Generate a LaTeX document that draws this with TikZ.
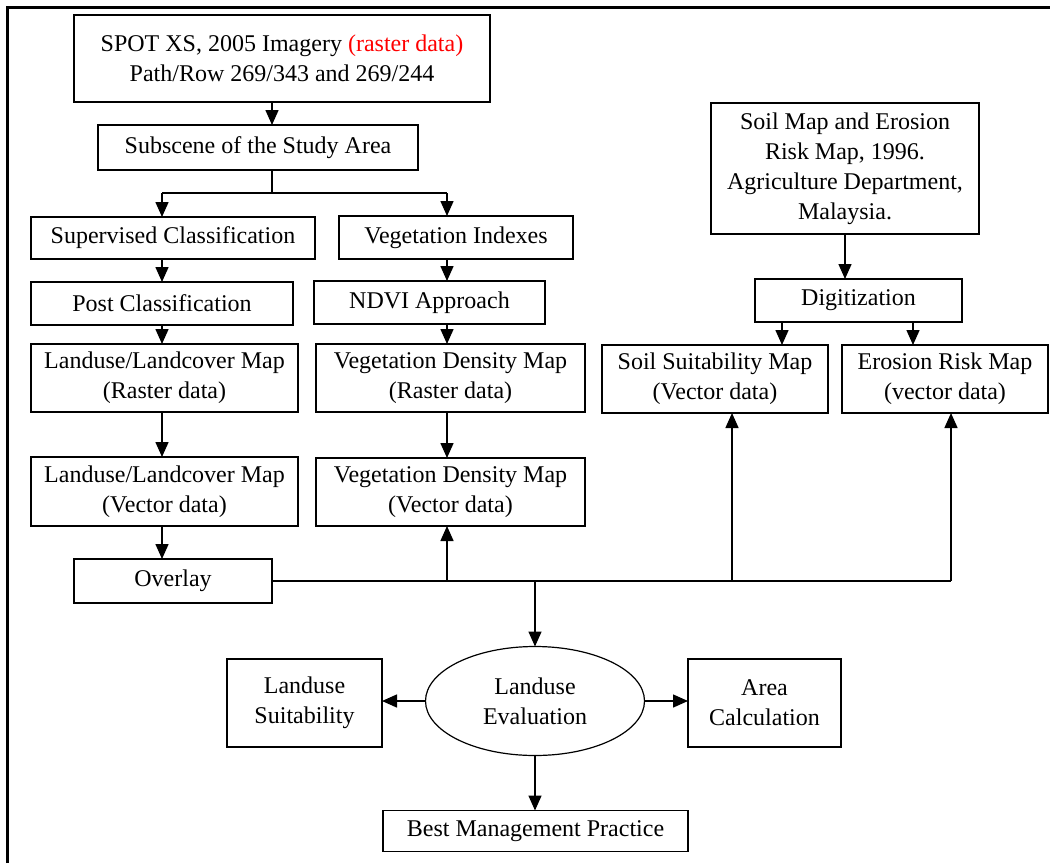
\documentclass[tikz,border=0pt]{standalone}
\usepackage{fontspec}
\setmainfont{Liberation Serif}
\usetikzlibrary{arrows.meta,shapes.geometric}
\newcommand{\boxline}{0.75pt}
\newcommand{\frameline}{1.5pt}
\newcommand{\splity}{193}
\newcommand{\colAx}{162}
\newcommand{\colBx}{447}
\newcommand{\trunkx}{272}

\begin{document}
\begin{tikzpicture}[x=0.5pt,y=-0.5pt]
\tikzstyle{box}=[draw,line width=\boxline,align=center,inner sep=0pt,outer sep=0pt,font=\fontsize{12}{15}\selectfont]
\tikzstyle{arr}=[line width=\boxline,-{Triangle[length=7.5pt,width=6.5pt]}]
\tikzstyle{plain}=[line width=\boxline]

\useasboundingbox (0,0) rectangle (1050,863);

%% frame
\draw[line width=\frameline] (7,863) -- (7,7) -- (1050,7);

%% columns for the connectors
\coordinate (colA) at (\colAx,0);
\coordinate (colB) at (\colBx,0);
\coordinate (colS) at (732,0);
\coordinate (colE) at (951,0);
\coordinate (colM) at (535,0);
\coordinate (colDL) at (782,0);
\coordinate (colDR) at (913,0);
\coordinate (split) at (\trunkx,\splity);
\coordinate (splitL) at (\colAx,\splity);
\coordinate (splitR) at (\colBx,\splity);

%% image branch
\node (spot) [box,minimum width=208pt,minimum height=43.5pt] at (282,58.5) {SPOT XS, 2005 Imagery \textcolor{red}{(raster data)}\\Path/Row 269/343 and 269/244};
\node (sub) [box,minimum width=160pt,minimum height=22.5pt] at (258,147.5) {Subscene of the Study Area};
\node (sup) [box,minimum width=142pt,minimum height=21pt] at (173,238) {Supervised Classification};
\node (vegi) [box,minimum width=117pt,minimum height=21.5pt] at (456,237.5) {Vegetation Indexes};
\node (post) [box,minimum width=131pt,minimum height=21.5pt] at (162,303.5) {Post Classification};
\node (ndvi) [box,minimum width=115.5pt,minimum height=21.5pt] at (429.5,302.5) {NDVI Approach};
\node (lucr) [box,minimum width=133.5pt,minimum height=34pt] at (164.5,378) {Landuse/Landcover Map\\(Raster data)};
\node (vdr) [box,minimum width=134.5pt,minimum height=34pt] at (450.5,378) {Vegetation Density Map\\(Raster data)};
\node (lucv) [box,minimum width=133.5pt,minimum height=34.5pt] at (164.5,491.5) {Landuse/Landcover Map\\(Vector data)};
\node (vdv) [box,minimum width=134.5pt,minimum height=34pt] at (450.5,492) {Vegetation Density Map\\(Vector data)};
\node (overlay) [box,minimum width=99pt,minimum height=22pt] at (173,581) {Overlay};

%% soil branch
\node (soil) [box,minimum width=134pt,minimum height=65.5pt] at (845,168.5) {Soil Map and Erosion\\Risk Map, 1996.\\Agriculture Department,\\Malaysia.};
\node (dig) [box,minimum width=103.5pt,minimum height=21.5pt] at (858.5,300.5) {Digitization};
\node (ssm) [box,minimum width=113pt,minimum height=34pt] at (715,379) {Soil Suitability Map\\(Vector data)};
\node (erm) [box,minimum width=103pt,minimum height=34pt] at (945,379) {Erosion Risk Map\\(vector data)};

%% evaluation
\node (eval) [box,ellipse,line width=0.6pt,minimum width=109.5pt,minimum height=54.5pt] at (535,701) {Landuse\\Evaluation};
\node (lus) [box,minimum width=77.5pt,minimum height=44pt] at (304.5,703) {Landuse\\Suitability};
\node (area) [box,minimum width=76.5pt,minimum height=44pt] at (764.5,703) {Area\\Calculation};
\node (bmp) [box,minimum width=152.5pt,minimum height=20.5pt] at (535.5,831) {Best Management Practice};

%% top connectors
\draw[arr] (spot.south -| split) -- (sub.north -| split);
\draw[plain] (sub.south -| split) -- (split);
\draw[plain] (splitL) -- (splitR);
\draw[arr] (splitL) -- (sup.north -| colA);
\draw[arr] (splitR) -- (vegi.north -| colB);

%% left column
\draw[arr] (sup.south -| colA) -- (post.north -| colA);
\draw[arr] (post.south -| colA) -- (lucr.north -| colA);
\draw[arr] (lucr.south -| colA) -- (lucv.north -| colA);
\draw[arr] (lucv.south -| colA) -- (overlay.north -| colA);

%% middle column
\draw[arr] (vegi.south -| colB) -- (ndvi.north -| colB);
\draw[arr] (ndvi.south -| colB) -- (vdr.north -| colB);
\draw[arr] (vdr.south -| colB) -- (vdv.north -| colB);

%% right column
\draw[arr] (soil.south) -- (dig.north -| soil.south);
\draw[arr] (dig.south -| colDL) -- (ssm.north -| colDL);
\draw[arr] (dig.south -| colDR) -- (erm.north -| colDR);

%% overlay bus
\draw[plain] (overlay.east) -- (colE |- overlay.east);
\draw[arr] (colB |- overlay.east) -- (vdv.south -| colB);
\draw[arr] (colS |- overlay.east) -- (ssm.south -| colS);
\draw[arr] (colE |- overlay.east) -- (erm.south -| colE);
\draw[arr] (colM |- overlay.east) -- (eval.north);

%% outputs
\draw[arr] (eval.west) -- (lus.east |- eval.west);
\draw[arr] (eval.east) -- (area.west |- eval.east);
\draw[arr] (eval.south) -- (bmp.north -| eval.south);

\end{tikzpicture}
\end{document}
